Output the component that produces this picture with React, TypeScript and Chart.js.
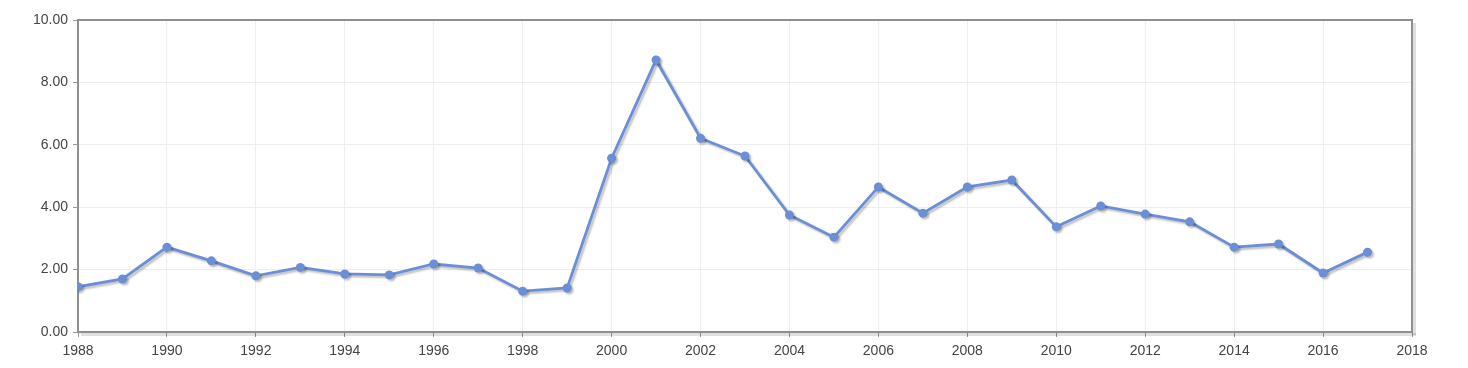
import React, { useEffect, useRef } from "react";
import { Chart, registerables } from "chart.js";

Chart.register(...registerables);

const years = [1988, 1989, 1990, 1991, 1992, 1993, 1994, 1995, 1996, 1997, 1998, 1999, 2000, 2001, 2002, 2003, 2004, 2005, 2006, 2007, 2008, 2009, 2010, 2011, 2012, 2013, 2014, 2015, 2016, 2017];
const values = [1.45, 1.70, 2.72, 2.28, 1.80, 2.07, 1.86, 1.83, 2.18, 2.05, 1.31, 1.41, 5.57, 8.72, 6.21, 5.64, 3.75, 3.04, 4.65, 3.81, 4.65, 4.87, 3.37, 4.04, 3.78, 3.53, 2.72, 2.82, 1.89, 2.56];
const xMin = 1988;
const xMax = 2018;
const yMin = 0;
const yMax = 10;

const LINE = "#6b8ed4";
const TEXT = "#444444";
const FONT = "'Liberation Sans', Arial, sans-serif";

const framePlugin = {
  id: "frame",
  beforeDatasetsDraw(chart: any) {
    const { ctx, chartArea: a } = chart;
    ctx.save();
    ctx.fillStyle = "rgba(0,0,0,0.12)";
    ctx.fillRect(a.right + 1, a.top + 3, 3, a.bottom - a.top);
    ctx.fillRect(a.left + 3, a.bottom + 1, a.right - a.left + 1, 3);
    ctx.strokeStyle = "#8f8f8f";
    ctx.lineWidth = 2;
    ctx.strokeRect(a.left, a.top, a.right - a.left, a.bottom - a.top);
    ctx.restore();
  },
};

const shadowPlugin = {
  id: "lineShadow",
  beforeDatasetDraw(chart: any) {
    const ctx = chart.ctx;
    ctx.save();
    ctx.shadowColor = "rgba(0,0,0,0.25)";
    ctx.shadowOffsetX = 2;
    ctx.shadowOffsetY = 2;
    ctx.shadowBlur = 2;
  },
  afterDatasetDraw(chart: any) {
    chart.ctx.restore();
  },
};

export default function App() {
  const ref = useRef<HTMLCanvasElement>(null);
  useEffect(() => {
    document.body.style.margin = "0";
    const chart = new Chart(ref.current!, {
      type: "line",
      data: {
        datasets: [
          {
            data: years.map((y, i) => ({ x: y, y: values[i] })),
            borderColor: LINE,
            backgroundColor: LINE,
            borderWidth: 2.8,
            pointRadius: 4.5,
            pointBorderWidth: 0,
            pointBackgroundColor: LINE,
            tension: 0,
          },
        ],
      },
      options: {
        animation: false,
        responsive: false,
        maintainAspectRatio: false,
        layout: { padding: { top: 20, right: 56, left: 0, bottom: 0 } },
        plugins: { legend: { display: false }, tooltip: { enabled: false } },
        scales: {
          x: {
            type: "linear",
            min: xMin,
            max: xMax,
            afterFit: (s: any) => { s.height = 36; },
            border: { display: false },
            grid: { color: "#ebeef2", tickColor: "#999", tickLength: 5, lineWidth: 1 },
            ticks: {
              stepSize: 2,
              color: TEXT,
              font: { family: FONT, size: 14 },
              padding: 6,
              maxRotation: 0,
              callback: (v: any) => String(v),
            },
          },
          y: {
            min: yMin,
            max: yMax,
            afterFit: (s: any) => { s.width = 78; },
            border: { display: false },
            grid: { color: "#ebeef2", tickColor: "#999", tickLength: 5, lineWidth: 1 },
            ticks: {
              stepSize: 2,
              color: TEXT,
              font: { family: FONT, size: 14 },
              padding: 5,
              callback: (v: any) => Number(v).toFixed(2),
            },
          },
        },
      },
      plugins: [framePlugin, shadowPlugin],
    });
    return () => chart.destroy();
  }, []);
  return <canvas ref={ref} width={1468} height={368} style={{ display: "block" }} />;
}
